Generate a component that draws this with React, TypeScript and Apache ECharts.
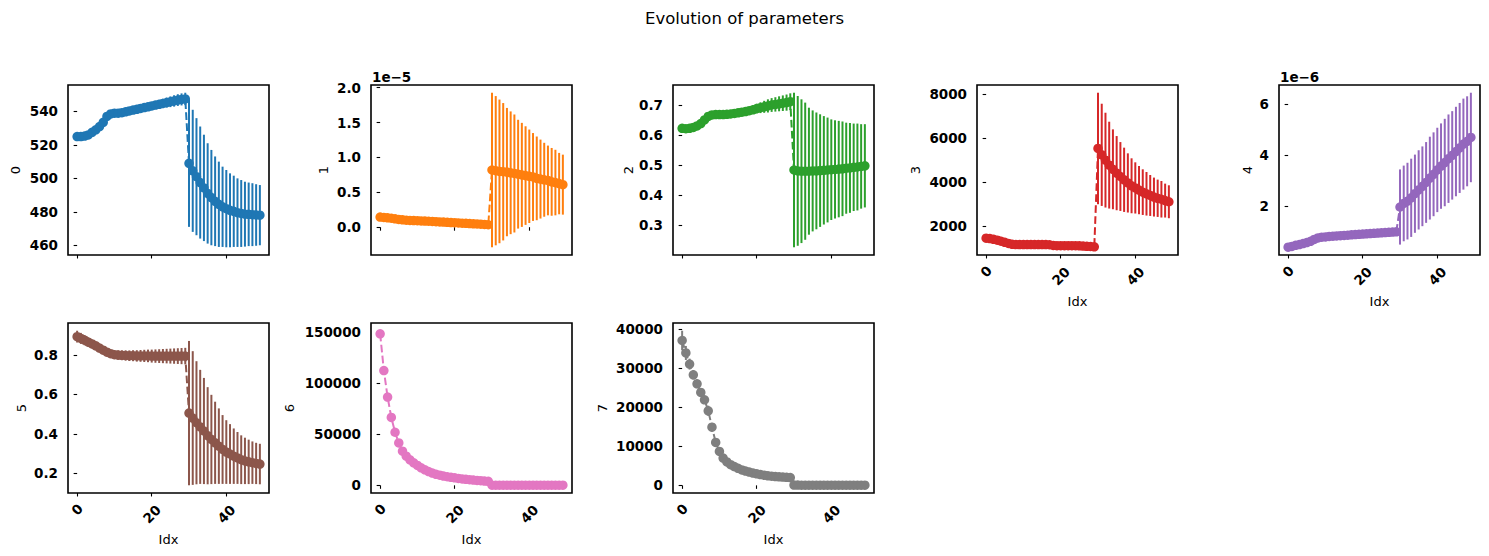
import React, { useEffect, useRef } from "react";
import * as echarts from "echarts";

// ---- data -------------------------------------------------------------
// Index of each step (x axis)
const idx: number[] = Array.from({ length: 50 }, (_, i) => i);

// Parameter 0
const values0 = [
  525, 525, 525.3, 526, 527.5, 529, 531, 533.5, 537, 538.5,
  539, 539, 539.3, 539.8, 540.3, 540.8, 541.3, 541.8, 542.3, 542.8,
  543.3, 543.8, 544.3, 544.8, 545.3, 545.8, 546.3, 546.8, 547.2, 547.5,
  509, 504.5, 501, 497.5, 494.3, 491, 488.5, 486.3, 484.5, 483,
  481.9, 480.9, 480.3, 479.5, 479, 478.6, 478.5, 478.3, 478.1, 478,
];
const errors0 = [
  0.3, 0.3, 0.3, 0.4, 0.5, 0.6, 0.7, 0.8, 0.9, 1.0,
  1.1, 1.2, 1.3, 1.4, 1.5, 1.6, 1.7, 1.8, 1.9, 2.0,
  2.2, 2.4, 2.6, 2.8, 3.0, 3.2, 3.4, 3.5, 3.6, 3.7,
  38, 36.5, 35, 33.5, 31.8, 30, 28.5, 26.8, 25.5, 24,
  23.1, 22.1, 21.3, 20.5, 20, 19.4, 19, 18.8, 18.4, 18,
];

// Parameter 1 (units of 1e-5)
const values1 = [
  0.145, 0.14, 0.135, 0.128, 0.12, 0.112, 0.105, 0.1, 0.097, 0.095,
  0.093, 0.09, 0.088, 0.085, 0.082, 0.079, 0.076, 0.073, 0.07, 0.067,
  0.064, 0.061, 0.058, 0.055, 0.052, 0.049, 0.046, 0.043, 0.04, 0.035,
  0.82, 0.81, 0.8, 0.795, 0.79, 0.78, 0.77, 0.76, 0.75, 0.74,
  0.73, 0.72, 0.7, 0.69, 0.68, 0.67, 0.65, 0.64, 0.625, 0.61,
];
const errors1 = [
  0.005, 0.005, 0.005, 0.005, 0.005, 0.005, 0.005, 0.005, 0.005, 0.005,
  0.005, 0.005, 0.005, 0.005, 0.005, 0.005, 0.005, 0.005, 0.005, 0.005,
  0.005, 0.005, 0.005, 0.005, 0.005, 0.005, 0.005, 0.005, 0.005, 0.005,
  1.108, 1.07, 1.03, 0.985, 0.92, 0.88, 0.846, 0.78, 0.746, 0.707,
  0.67, 0.63, 0.6, 0.566, 0.53, 0.5, 0.486, 0.47, 0.44, 0.43,
];

// Parameter 2
const values2 = [
  0.622, 0.621, 0.622, 0.625, 0.63, 0.638, 0.65, 0.662, 0.667, 0.668,
  0.668, 0.668, 0.669, 0.67, 0.672, 0.674, 0.676, 0.678, 0.681, 0.684,
  0.688, 0.691, 0.694, 0.697, 0.7, 0.702, 0.704, 0.706, 0.708, 0.711,
  0.483, 0.48, 0.479, 0.479, 0.479, 0.48, 0.48, 0.481, 0.482, 0.483,
  0.484, 0.485, 0.486, 0.487, 0.489, 0.49, 0.492, 0.493, 0.495, 0.497,
];
const errors2 = [
  0.002, 0.002, 0.002, 0.002, 0.003, 0.003, 0.004, 0.004, 0.005, 0.005,
  0.006, 0.006, 0.007, 0.008, 0.009, 0.01, 0.011, 0.012, 0.013, 0.014,
  0.016, 0.018, 0.02, 0.022, 0.023, 0.024, 0.025, 0.026, 0.027, 0.028,
  0.258, 0.25, 0.24, 0.229, 0.212, 0.202, 0.195, 0.188, 0.181, 0.175,
  0.168, 0.164, 0.161, 0.158, 0.152, 0.15, 0.146, 0.145, 0.141, 0.139,
];

// Parameter 3
const values3 = [
  1440, 1420, 1390, 1350, 1300, 1250, 1200, 1160, 1150, 1150,
  1150, 1150, 1150, 1150, 1150, 1150, 1150, 1140, 1110, 1100,
  1100, 1100, 1100, 1100, 1100, 1090, 1080, 1070, 1060, 1045,
  5535, 5245, 5003, 4775, 4584, 4409, 4256, 4105, 3962, 3832,
  3734, 3634, 3542, 3467, 3390, 3317, 3262, 3217, 3156, 3103,
];
const errors3 = [
  20, 20, 20, 20, 20, 20, 20, 20, 20, 20,
  20, 20, 20, 20, 20, 20, 20, 20, 20, 20,
  20, 20, 20, 20, 20, 20, 20, 20, 20, 20,
  2545, 2333, 2164, 1982, 1823, 1693, 1572, 1467, 1351, 1254,
  1169, 1101, 1042, 994, 935, 889, 852, 834, 774, 752,
];

// Parameter 4 (units of 1e-6)
const values4 = [
  0.4, 0.43, 0.47, 0.5, 0.54, 0.58, 0.63, 0.7, 0.76, 0.79,
  0.8, 0.82, 0.83, 0.84, 0.85, 0.86, 0.87, 0.88, 0.89, 0.9,
  0.91, 0.92, 0.93, 0.94, 0.95, 0.96, 0.97, 0.98, 0.99, 1.0,
  1.97, 2.11, 2.2, 2.33, 2.49, 2.64, 2.78, 2.93, 3.1, 3.25,
  3.42, 3.57, 3.71, 3.86, 3.99, 4.14, 4.28, 4.43, 4.54, 4.69,
];
const errors4 = [
  0.005, 0.005, 0.005, 0.005, 0.005, 0.005, 0.005, 0.005, 0.005, 0.005,
  0.005, 0.005, 0.005, 0.005, 0.005, 0.005, 0.005, 0.005, 0.005, 0.005,
  0.01, 0.01, 0.01, 0.01, 0.01, 0.01, 0.01, 0.01, 0.01, 0.01,
  1.47, 1.48, 1.5, 1.53, 1.53, 1.55, 1.56, 1.58, 1.62, 1.64,
  1.65, 1.67, 1.71, 1.73, 1.73, 1.75, 1.76, 1.78, 1.76, 1.75,
];

// Parameter 5
const values5 = [
  0.894, 0.885, 0.876, 0.866, 0.857, 0.847, 0.836, 0.825, 0.815, 0.807,
  0.802, 0.8, 0.799, 0.798, 0.797, 0.797, 0.796, 0.796, 0.796, 0.796,
  0.795, 0.795, 0.795, 0.795, 0.795, 0.795, 0.795, 0.795, 0.795, 0.795,
  0.505, 0.48, 0.456, 0.435, 0.414, 0.39, 0.371, 0.354, 0.337, 0.32,
  0.307, 0.297, 0.286, 0.277, 0.268, 0.262, 0.257, 0.253, 0.249, 0.246,
];
const errors5 = [
  0.03, 0.028, 0.026, 0.024, 0.022, 0.02, 0.019, 0.018, 0.018, 0.02,
  0.022, 0.024, 0.025, 0.026, 0.027, 0.028, 0.029, 0.03, 0.031, 0.032,
  0.033, 0.034, 0.035, 0.036, 0.037, 0.038, 0.039, 0.04, 0.041, 0.042,
  0.367, 0.34, 0.313, 0.29, 0.27, 0.247, 0.227, 0.209, 0.192, 0.175,
  0.162, 0.152, 0.141, 0.132, 0.124, 0.118, 0.113, 0.108, 0.105, 0.103,
];

// Parameter 6
const values6 = [
  148500, 112500, 86500, 66500, 52000, 41500, 33500, 28500, 25000, 22000,
  19500, 17200, 15200, 13500, 12000, 10800, 9900, 9100, 8400, 7800,
  7300, 6800, 6300, 5900, 5500, 5100, 4800, 4500, 4200, 3900,
  150, 145, 140, 135, 130, 125, 120, 118, 115, 112,
  110, 108, 106, 104, 102, 100, 98, 96, 94, 92,
];
const errors6 = [
  3000, 2000, 1500, 1200, 1000, 800, 700, 600, 500, 450,
  400, 350, 300, 280, 260, 240, 220, 200, 180, 170,
  160, 150, 140, 130, 120, 110, 100, 100, 100, 100,
  50, 50, 50, 50, 50, 50, 50, 50, 50, 50,
  50, 50, 50, 50, 50, 50, 50, 50, 50, 50,
];

// Parameter 7
const values7 = [
  37100, 33900, 31050, 28300, 26000, 23800, 21900, 19100, 14900, 11000,
  8700, 7000, 6000, 5300, 4800, 4350, 3950, 3650, 3400, 3150,
  2950, 2750, 2600, 2450, 2350, 2250, 2180, 2120, 2060, 2000,
  60, 58, 56, 55, 54, 53, 52, 51, 50, 49,
  48, 47, 46, 45, 44, 43, 42, 41, 40, 40,
];
const errors7 = [
  2500, 1800, 1400, 1200, 1100, 1000, 1000, 1300, 1100, 800,
  600, 450, 350, 300, 250, 220, 200, 180, 160, 150,
  140, 130, 120, 110, 100, 100, 100, 100, 100, 100,
  20, 20, 20, 20, 20, 20, 20, 20, 20, 20,
  20, 20, 20, 20, 20, 20, 20, 20, 20, 20,
];

// Tick labels
const xTicks = [0, 20, 40];
const yTicks0 = [460, 480, 500, 520, 540];
const yTicks1 = [0.0, 0.5, 1.0, 1.5, 2.0];
const yTicks2 = [0.3, 0.4, 0.5, 0.6, 0.7];
const yTicks3 = [2000, 4000, 6000, 8000];
const yTicks4 = [2, 4, 6];
const yTicks5 = [0.2, 0.4, 0.6, 0.8];
const yTicks6 = [0, 50000, 100000, 150000];
const yTicks7 = [0, 10000, 20000, 30000, 40000];

const panelNames = ["0", "1", "2", "3", "4", "5", "6", "7"];
const palette = ["#1f77b4", "#ff7f0e", "#2ca02c", "#d62728", "#9467bd", "#8c564b", "#e377c2", "#7f7f7f"];
const chartTitle = "Evolution of parameters";
const xAxisTitle = "Idx";

// ---- layout -----------------------------------------------------------
const FONT = "DejaVu Sans";
const TICK_FONT_SIZE = 13.5;
const GRID_W = 201;
const GRID_H = 170;
const colLefts = [68, 371, 673, 977, 1279];
const rowTops = [85, 323];
const yNameGaps = [46, 41, 38, 55, 25, 40, 75, 64];

type Panel = {
  values: number[];
  errors: number[];
  ticks: number[];
  decimals: number;
  offsetText?: string;
};

const panels: Panel[] = [
  { values: values0, errors: errors0, ticks: yTicks0, decimals: 0 },
  { values: values1, errors: errors1, ticks: yTicks1, decimals: 1, offsetText: "1e\u22125" },
  { values: values2, errors: errors2, ticks: yTicks2, decimals: 1 },
  { values: values3, errors: errors3, ticks: yTicks3, decimals: 0 },
  { values: values4, errors: errors4, ticks: yTicks4, decimals: 0, offsetText: "1e\u22126" },
  { values: values5, errors: errors5, ticks: yTicks5, decimals: 1 },
  { values: values6, errors: errors6, ticks: yTicks6, decimals: 0 },
  { values: values7, errors: errors7, ticks: yTicks7, decimals: 0 },
];

function buildOption() {
  const grids: any[] = [];
  const xAxes: any[] = [];
  const yAxes: any[] = [];
  const series: any[] = [];
  const graphics: any[] = [];

  graphics.push({
    type: "text",
    left: "center",
    top: 10,
    style: { text: chartTitle, font: `16.5px "${FONT}"`, fill: "#000" },
  });

  panels.forEach((p, i) => {
    const row = i < 5 ? 0 : 1;
    const col = i % 5;
    const left = colLefts[col];
    const top = rowTops[row];
    const color = palette[i];
    const showXLabels = i >= 3;

    grids.push({
      left,
      top,
      width: GRID_W,
      height: GRID_H,
      show: true,
      borderColor: "#000",
      borderWidth: 1.6,
      backgroundColor: "transparent",
      containLabel: false,
    });

    // 5% margins around the data incl. error bars
    const lows = p.values.map((v, k) => v - p.errors[k]);
    const highs = p.values.map((v, k) => v + p.errors[k]);
    const lo = Math.min(...lows);
    const hi = Math.max(...highs);
    const pad = (hi - lo) * 0.05;

    xAxes.push({
      type: "value",
      gridIndex: i,
      min: -2.45,
      max: 51.45,
      name: showXLabels ? xAxisTitle : "",
      nameLocation: "middle",
      nameGap: 40,
      nameTextStyle: { fontFamily: FONT, fontSize: 13, color: "#000" },
      axisLine: { show: false },
      splitLine: { show: false },
      axisTick: {
        show: true,
        inside: false,
        length: 3.5,
        customValues: xTicks,
        lineStyle: { color: "#000", width: 1.1 },
      },
      axisLabel: {
        show: showXLabels,
        customValues: xTicks,
        rotate: 45,
        align: "center",
        verticalAlign: "middle",
        margin: 21,
        formatter: (v: number) => {
          const s = String(Math.round(v));
          return s.length === 1 ? `{s|${s}}` : `{d|${s}}`;
        },
        rich: {
          s: {
            fontFamily: FONT,
            fontWeight: "bold",
            fontSize: TICK_FONT_SIZE,
            color: "#000",
            padding: [0, 0, 6.4, 6.4],
          },
          d: { fontFamily: FONT, fontWeight: "bold", fontSize: TICK_FONT_SIZE, color: "#000" },
        },
      },
    });

    yAxes.push({
      type: "value",
      gridIndex: i,
      min: lo - pad,
      max: hi + pad,
      name: panelNames[i],
      nameLocation: "middle",
      nameGap: yNameGaps[i],
      nameTextStyle: { fontFamily: FONT, fontSize: 13, color: "#000" },
      axisLine: { show: false },
      splitLine: { show: false },
      axisTick: {
        show: true,
        inside: false,
        length: 3.5,
        customValues: p.ticks,
        lineStyle: { color: "#000", width: 1.1 },
      },
      axisLabel: {
        customValues: p.ticks,
        fontFamily: FONT,
        fontWeight: "bold",
        fontSize: TICK_FONT_SIZE,
        color: "#000",
        margin: 10,
        formatter: (v: number) => v.toFixed(p.decimals),
      },
    });

    // vertical error bars
    series.push({
      type: "custom",
      xAxisIndex: i,
      yAxisIndex: i,
      silent: true,
      clip: true,
      z: 1,
      encode: { x: 0, y: [1, 2] },
      data: idx.map((k) => [k, lows[k], highs[k]]),
      renderItem: (_params: any, api: any) => {
        const x = api.value(0);
        const a = api.coord([x, api.value(1)]);
        const b = api.coord([x, api.value(2)]);
        return {
          type: "line",
          shape: { x1: a[0], y1: a[1], x2: b[0], y2: b[1] },
          style: { stroke: color, lineWidth: 2 },
        };
      },
    });

    // dashed line with round markers
    series.push({
      type: "line",
      xAxisIndex: i,
      yAxisIndex: i,
      z: 2,
      silent: true,
      data: idx.map((k) => [k, p.values[k]]),
      symbol: "circle",
      symbolSize: 9.5,
      showSymbol: true,
      showAllSymbol: true,
      itemStyle: { color, opacity: 1 },
      lineStyle: { color, width: 2, type: [7.7, 3.3] },
    });

    if (p.offsetText) {
      graphics.push({
        type: "text",
        x: left + 1,
        y: top - 1,
        style: {
          text: p.offsetText,
          font: `bold ${TICK_FONT_SIZE}px "${FONT}"`,
          fill: "#000",
          textVerticalAlign: "bottom",
          verticalAlign: "bottom",
        },
      });
    }
  });

  return {
    animation: false,
    backgroundColor: "#ffffff",
    grid: grids,
    xAxis: xAxes,
    yAxis: yAxes,
    series,
    graphic: graphics,
  };
}

export default function App() {
  const ref = useRef<HTMLDivElement>(null);

  useEffect(() => {
    document.body.style.margin = "0";
    if (!ref.current) return;
    const chart = echarts.init(ref.current, undefined, { renderer: "svg" });
    chart.setOption(buildOption() as any);
    return () => {
      chart.dispose();
    };
  }, []);

  return <div ref={ref} style={{ width: 1489, height: 556 }} />;
}
